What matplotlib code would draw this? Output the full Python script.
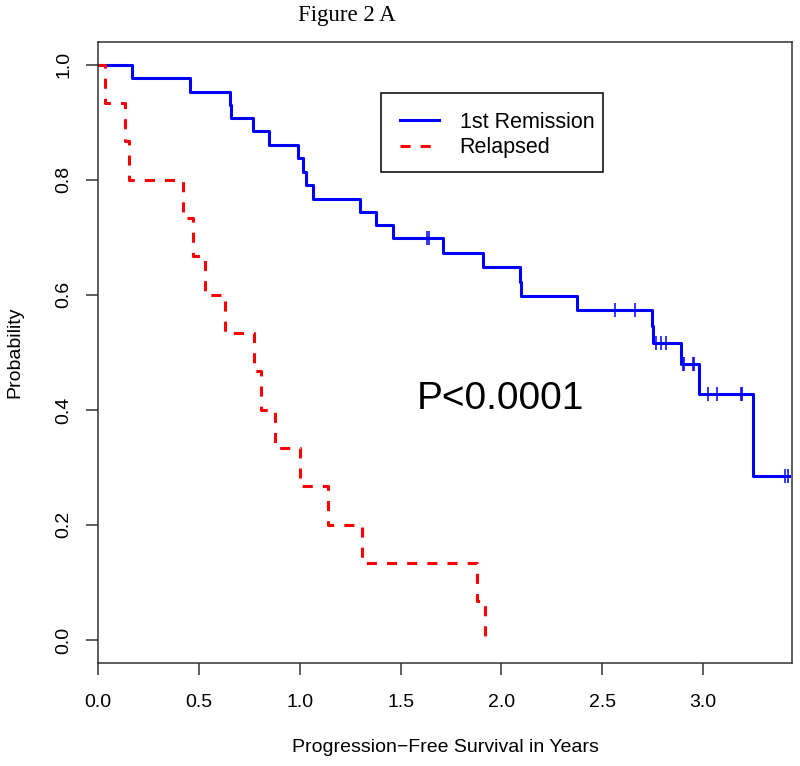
import numpy as np
import matplotlib
matplotlib.use("Agg")
import matplotlib.pyplot as plt
from matplotlib.patches import Rectangle

plt.rcParams['font.family'] = ['Liberation Sans', 'DejaVu Sans']

# Kaplan-Meier step values
times_rem = [0, 0.169, 0.456, 0.652, 0.660, 0.770, 0.848, 0.993, 1.018, 1.030,
             1.064, 1.300, 1.376, 1.461, 1.709, 1.910, 2.090, 2.095, 2.376,
             2.745, 2.752, 2.890, 2.980, 3.249, 3.425]
surv_rem = [1.0, 0.977, 0.953, 0.930, 0.907, 0.884, 0.860, 0.837, 0.814, 0.791,
            0.767, 0.744, 0.721, 0.698, 0.673, 0.648, 0.623, 0.598, 0.573,
            0.546, 0.517, 0.479, 0.427, 0.285, 0.285]
cens_rem = [1.629, 1.642, 2.563, 2.662, 2.764, 2.789, 2.817, 2.899, 2.907,
            2.948, 2.956, 3.026, 3.070, 3.186, 3.194, 3.405, 3.420]

times_rel = [0, 0.035, 0.134, 0.153, 0.420, 0.473, 0.530, 0.630, 0.773,
             0.806, 0.878, 1.000, 1.142, 1.310, 1.877, 1.919]
surv_rel = [1.0, 0.933, 0.867, 0.800, 0.733, 0.667, 0.600, 0.533, 0.467,
            0.400, 0.333, 0.267, 0.200, 0.133, 0.067, 0.0]

labels = ['1st Remission', 'Relapsed']
xticks = [0.0, 0.5, 1.0, 1.5, 2.0, 2.5, 3.0]
yticks = [0.0, 0.2, 0.4, 0.6, 0.8, 1.0]


def surv_at(t, times, surv):
    idx = np.searchsorted(times, t, side='right') - 1
    return np.array(surv)[idx]


fig = plt.figure(figsize=(8, 7.66), dpi=100)
ax = fig.add_axes([98 / 800, 1 - 663 / 766, 694 / 800, 621.3 / 766])

ax.step(times_rem, surv_rem, where='post', color='#0000FF', lw=2.2,
        label=labels[0])
ax.plot(cens_rem, surv_at(cens_rem, times_rem, surv_rem), ls='none',
        marker='|', ms=10, mew=1.1, color='#0000FF')
ax.step(times_rel, surv_rel, where='post', color='#FF0000', lw=2.2,
        ls=(0, (3.3, 3.3)), label=labels[1])

ax.set_xlim(0, 3.44)
ax.set_ylim(-0.04, 1.04)
ax.set_xticks(xticks)
ax.set_yticks(yticks)
ax.set_xticklabels([f'{v:.1f}' for v in xticks])
ax.set_yticklabels([f'{v:.1f}' for v in yticks], rotation=90, va='center')

for s in ax.spines.values():
    s.set_color('#333333')
    s.set_linewidth(1.1)
ax.tick_params(axis='both', direction='out', length=8.5, width=1.1,
               color='#333333', labelsize=14)
ax.tick_params(axis='x', pad=13.5)
ax.tick_params(axis='y', pad=10)

ax.set_xlabel('Progression\u2212Free Survival in Years', fontsize=14, va='center')
ax.xaxis.set_label_coords(0.5, (663 - 748) / 621.3)
ax.set_ylabel('Probability', fontsize=14, va='center')
ax.yaxis.set_label_coords((15 - 98) / 694, 0.5)

ax.text(1.578, 0.4007, 'P<0.0001', fontsize=28, ha='left', va='baseline')

# R-style legend: entries without frame, box drawn separately
ax.legend(loc='upper left', bbox_to_anchor=((400 - 98) / 694, (663 - 112) / 621.3),
          fontsize=15.5, frameon=False, handlelength=1.82, handletextpad=0.95,
          borderpad=0, labelspacing=0.2, borderaxespad=0)
ax.add_patch(Rectangle(((381 - 98) / 694, (663 - 172) / 621.3), 222 / 694, 79 / 621.3,
                       transform=ax.transAxes, fill=False, edgecolor='black', lw=1.1))

fig.text(347 / 800, 1 - 16 / 766, 'Figure 2 A', ha='center', va='center',
         family='Liberation Serif', fontsize=16.5)

fig.savefig('out.png', dpi=100)
